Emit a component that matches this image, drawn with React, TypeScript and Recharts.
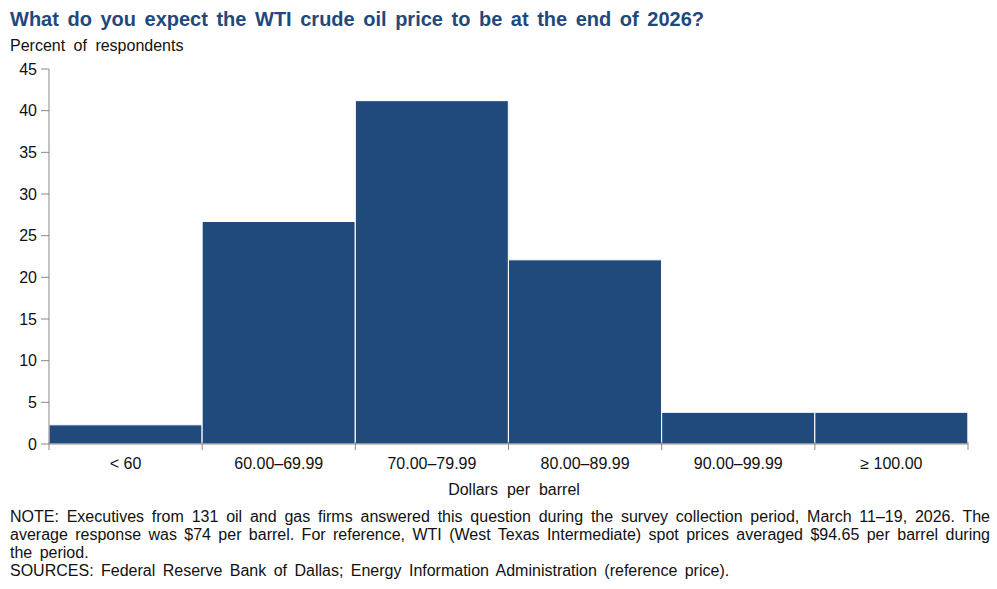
import React from "react";
import { BarChart, Bar, XAxis, YAxis } from "recharts";

const categories = ["< 60", "60.00–69.99", "70.00–79.99", "80.00–89.99", "90.00–99.99", "≥ 100.00"];
const percents = [2.3, 26.7, 41.2, 22.1, 3.8, 3.8];
const yTicks = [0, 5, 10, 15, 20, 25, 30, 35, 40, 45];

const data = categories.map((c, i) => ({ category: c, value: percents[i] }));

const FONT = "Arial, 'Liberation Sans', Helvetica, sans-serif";
const BAR = "#214A7C";
const AXIS = "#898989";

const CHART_W = 997;
const CHART_H = 589;
const M = { top: 69, right: 29, left: 9, bottom: 115 };
const YW = 40;
const PLOT_W = CHART_W - M.left - M.right - YW;
const BAND = PLOT_W / categories.length;

const XTick = (props: any) => {
  const { x, y, payload, index } = props;
  const left = x - BAND / 2;
  const right = x + BAND / 2;
  const isLast = index === categories.length - 1;
  return (
    <g>
      <line x1={left} x2={left} y1={y - 8} y2={y} stroke={AXIS} strokeWidth={1} />
      {isLast && <line x1={right} x2={right} y1={y - 8} y2={y} stroke={AXIS} strokeWidth={1} />}
      <text x={x} y={y + 19} textAnchor="middle" fontSize={16} fill="#111" fontFamily={FONT}>
        {payload.value}
      </text>
    </g>
  );
};

const noteLine: React.CSSProperties = {
  fontSize: 16,
  lineHeight: "18px",
  color: "#111",
  width: 980,
  whiteSpace: "nowrap",
  wordSpacing: 3,
};

export default function App() {
  return (
    <div style={{ position: "absolute", left: 0, top: 0, width: CHART_W, height: CHART_H, background: "#fff", fontFamily: FONT }}>
      <div style={{ position: "absolute", left: 10, top: 8, fontSize: 20, fontWeight: "bold", color: "#1F497D", whiteSpace: "nowrap", wordSpacing: 3 }}>
        What do you expect the WTI crude oil price to be at the end of 2026?
      </div>
      <div style={{ position: "absolute", left: 10, top: 37, fontSize: 16, color: "#111", whiteSpace: "nowrap", wordSpacing: 4 }}>
        Percent of respondents
      </div>
      <div style={{ position: "absolute", left: 0, top: 0 }}>
        <BarChart width={CHART_W} height={CHART_H} data={data} margin={M} barCategoryGap={0}>
          <XAxis
            dataKey="category"
            axisLine={{ stroke: AXIS }}
            tickLine={false}
            tick={<XTick />}
            interval={0}
            height={30}
            tickMargin={0}
          />
          <YAxis
            domain={[0, 45]}
            ticks={yTicks}
            width={YW}
            axisLine={{ stroke: AXIS }}
            tickLine={{ stroke: AXIS }}
            tickSize={8}
            tickMargin={4}
            tick={{ fontSize: 16, fill: "#111", fontFamily: FONT }}
            interval={0}
          />
          <Bar dataKey="value" fill={BAR} stroke="#fff" strokeWidth={1} isAnimationActive={false} />
        </BarChart>
      </div>
      <div style={{ position: "absolute", left: 0, width: 1028, top: 481, textAlign: "center", fontSize: 16, color: "#111", wordSpacing: 4.5 }}>
        Dollars per barrel
      </div>
      <div style={{ position: "absolute", left: 10, top: 508 }}>
        <div style={{ ...noteLine, textAlign: "justify", textAlignLast: "justify", whiteSpace: "normal", wordSpacing: 0 }}>
          NOTE: Executives from 131 oil and gas firms answered this question during the survey collection period, March 11–19, 2026. The
        </div>
        <div style={{ ...noteLine, textAlign: "justify", textAlignLast: "justify", whiteSpace: "normal", wordSpacing: 0 }}>
          average response was $74 per barrel. For reference, WTI (West Texas Intermediate) spot prices averaged $94.65 per barrel during
        </div>
        <div style={noteLine}>the period.</div>
        <div style={noteLine}>SOURCES: Federal Reserve Bank of Dallas; Energy Information Administration (reference price).</div>
      </div>
    </div>
  );
}
